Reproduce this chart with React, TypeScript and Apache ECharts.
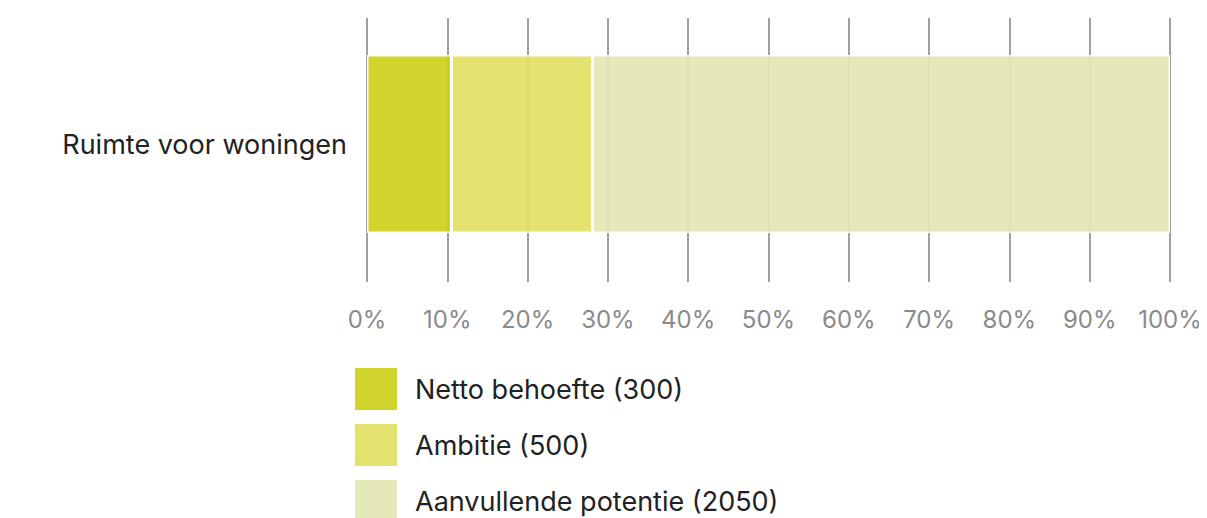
import React, { useEffect, useRef } from "react";
import * as echarts from "echarts";

const categories = ["Ruimte voor woningen"];
const seriesNames = ["Netto behoefte (300)", "Ambitie (500)", "Aanvullende potentie (2050)"];
const seriesValues = [300, 500, 2050];
const seriesColors = ["#cfd11e", "#e1e265", "#e3e6b4"];

export default function App() {
  const ref = useRef<HTMLDivElement>(null);

  useEffect(() => {
    if (!ref.current) return;
    const chart = echarts.init(ref.current, null, { renderer: "svg" });
    const total = seriesValues.reduce((a, b) => a + b, 0);
    const font = "Inter, 'Noto Sans', sans-serif";

    chart.setOption({
      animation: false,
      textStyle: { fontFamily: font },
      grid: { left: 367, right: 37, top: 18, bottom: 248 },
      legend: {
        orient: "vertical",
        left: 355,
        top: 368,
        height: 300,
        padding: 0,
        itemWidth: 42,
        itemHeight: 42,
        itemGap: 14,
        icon: "rect",
        itemStyle: { borderWidth: 0, opacity: 0.93 },
        data: seriesNames,
        textStyle: { fontSize: 27, color: "#222", fontFamily: font, padding: [0, 0, 0, 13] },
      },
      xAxis: {
        type: "value",
        min: 0,
        max: 100,
        interval: 10,
        axisLine: { show: false },
        axisTick: { show: true, length: 12, lineStyle: { color: "#a0a0a0", width: 2 } },
        splitLine: { show: true, lineStyle: { color: "#a0a0a0", width: 2 } },
        axisLabel: { formatter: "{value}%", fontSize: 24, color: "#8a8a8a", margin: 37, fontFamily: font },
      },
      yAxis: {
        type: "category",
        data: categories,
        axisLine: { show: false },
        axisTick: { show: false },
        axisLabel: { fontSize: 27, color: "#222", margin: 20, fontFamily: font },
      },
      series: seriesNames.map((name, i) => ({
        name,
        type: "bar",
        stack: "total",
        barWidth: 178,
        data: [(seriesValues[i] / total) * 100],
        itemStyle: { color: seriesColors[i], borderColor: "#fff", borderWidth: 1.5, opacity: 0.93 },
      })),
    });

    return () => chart.dispose();
  }, []);

  return <div ref={ref} style={{ width: 1207, height: 518, marginLeft: -8, marginTop: -8 }} />;
}
